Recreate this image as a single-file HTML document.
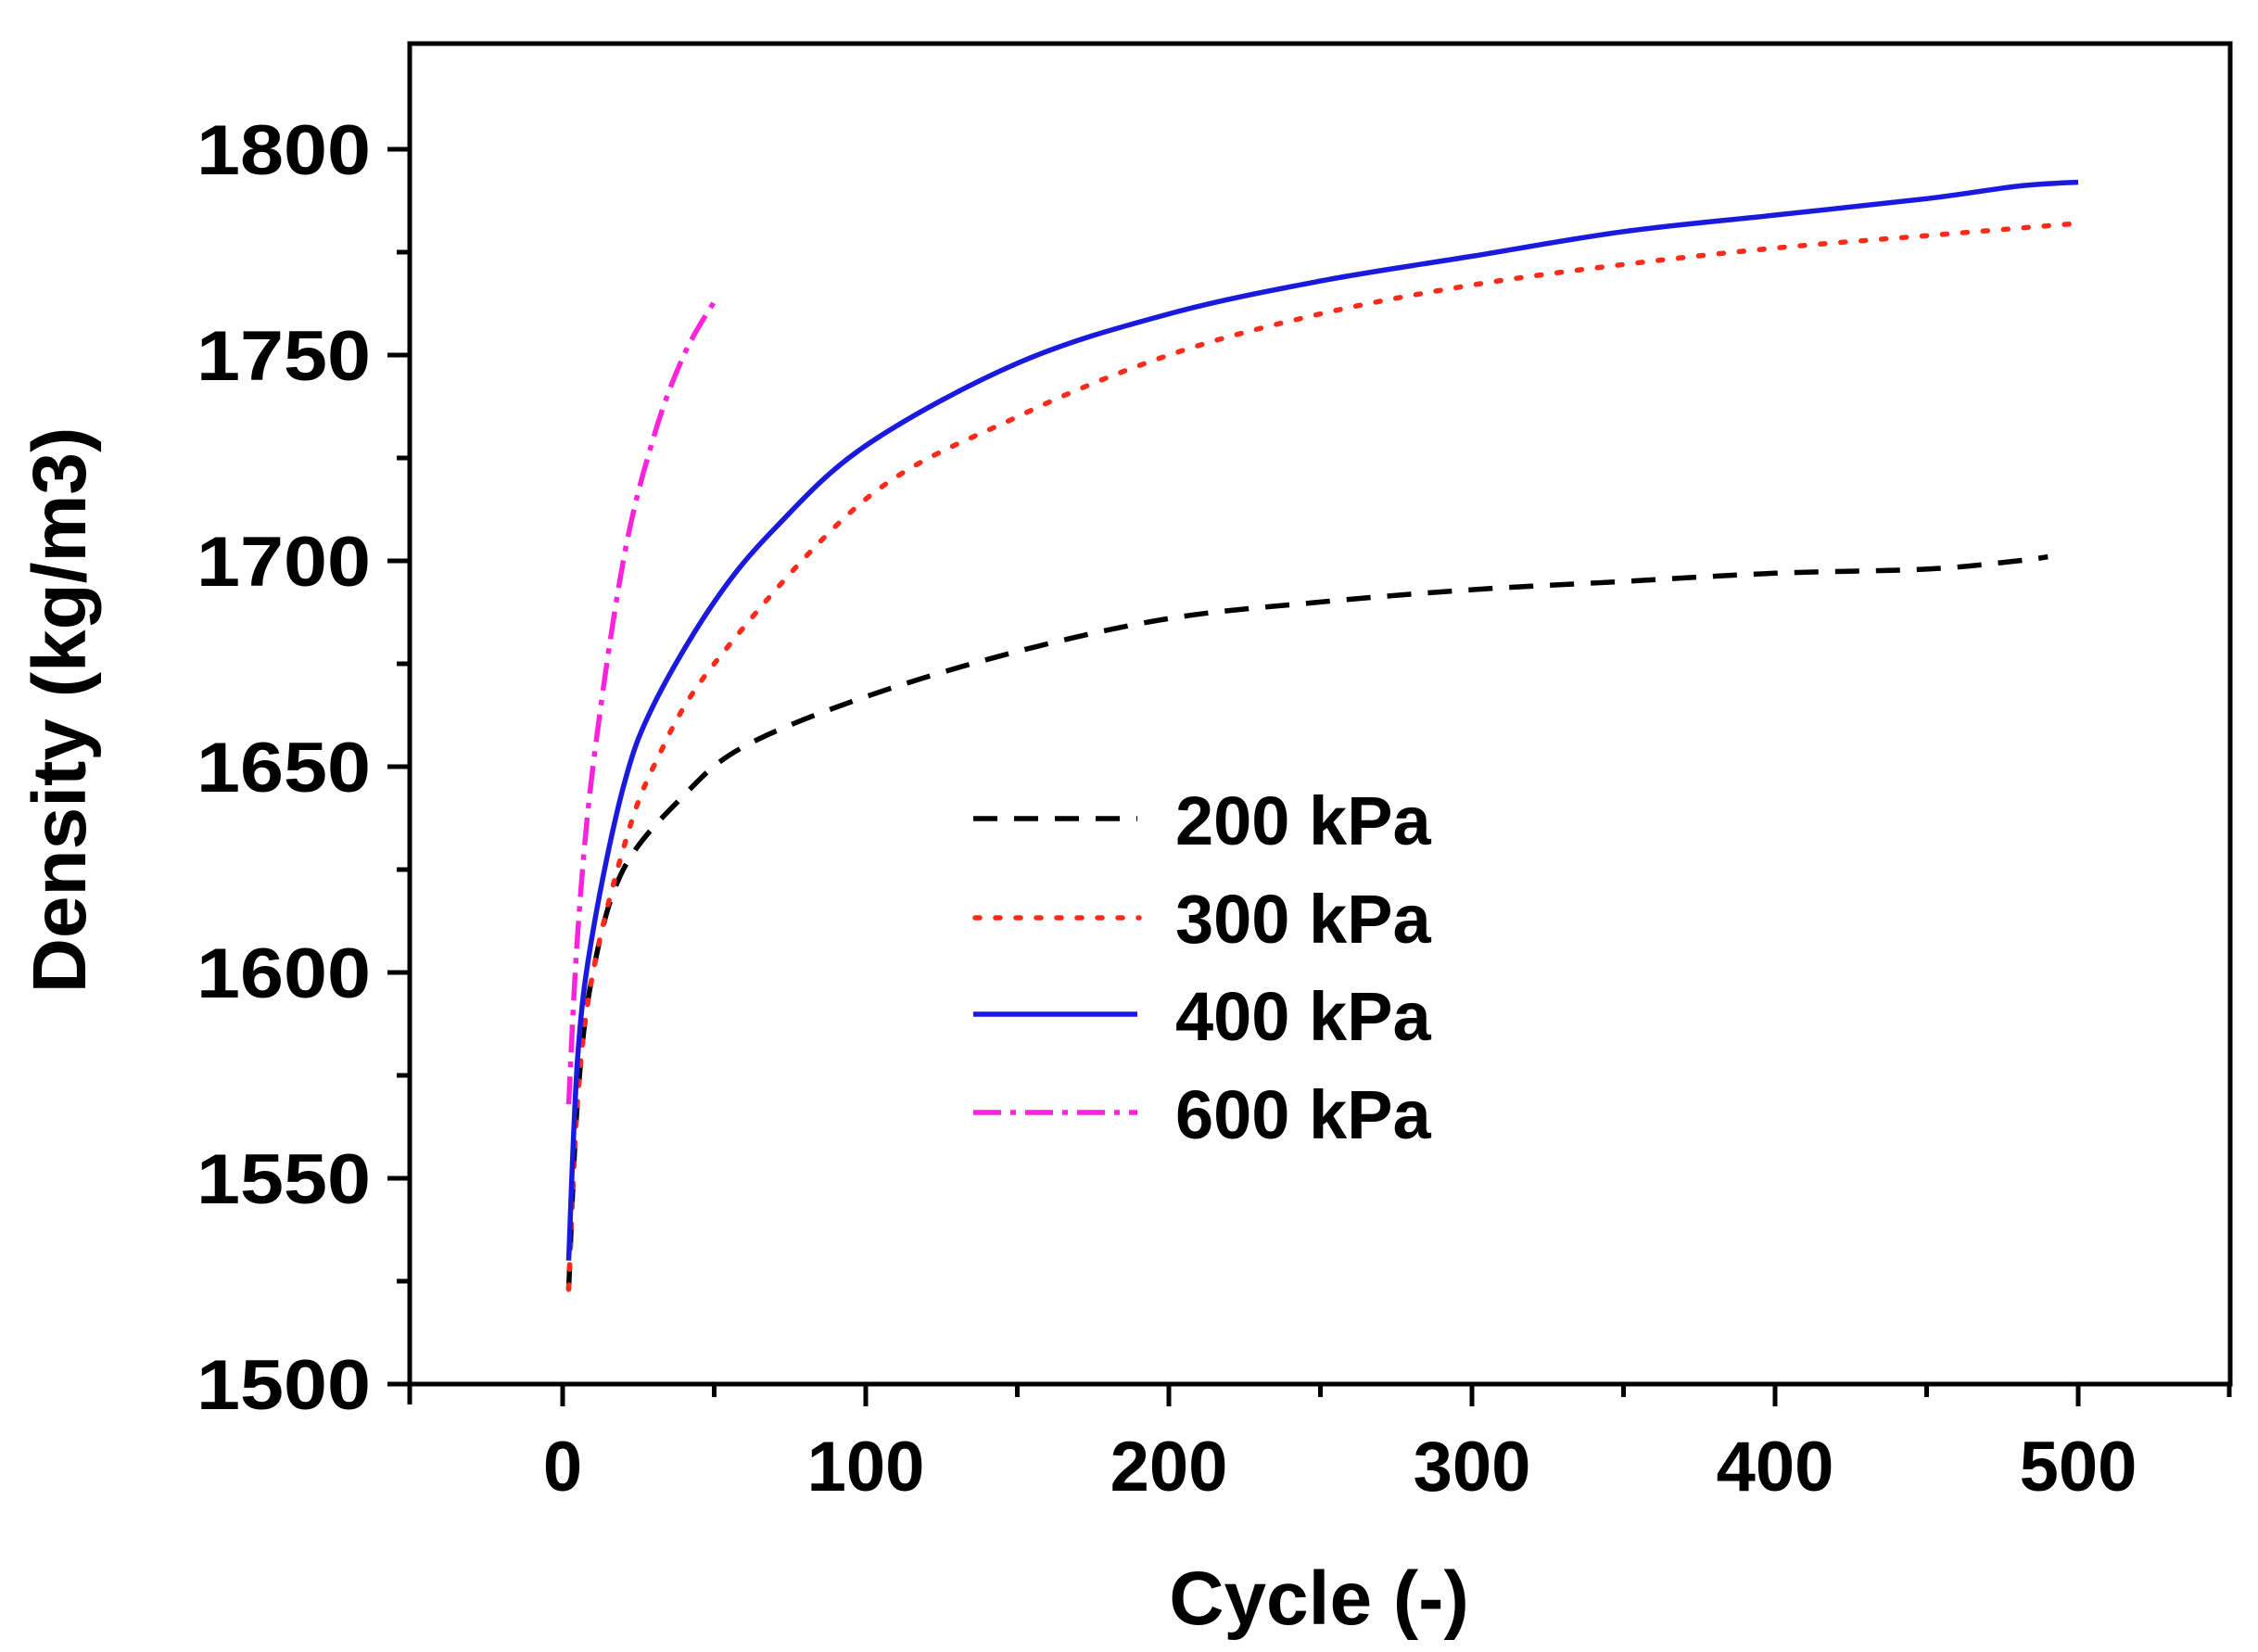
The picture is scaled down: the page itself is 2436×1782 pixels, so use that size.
<!DOCTYPE html>
<html><head><style>html,body{margin:0;padding:0;background:#fff}svg{display:block}</style></head><body>
<svg id="s" width="2436" height="1782" viewBox="0 0 2436 1782" xmlns="http://www.w3.org/2000/svg">
<g stroke="#000" stroke-width="5" fill="none">
<rect x="442" y="47" width="1964" height="1446"/>
<path d="M442 1493h-24M442 1271h-24M442 1049h-24M442 827h-24M442 605h-24M442 383h-24M442 161h-24M442 1382h-14M442 1160h-14M442 938h-14M442 716h-14M442 494h-14M442 272h-14M442 1493v22"/>
<path d="M607 1493v24M934 1493v24M1261 1493v24M1588 1493v24M1915 1493v24M2242 1493v24M770.5 1493v14M1097.5 1493v14M1424.5 1493v14M1751.5 1493v14M2078.5 1493v14M2405 1493v14"/>
</g>
<g font-family="Liberation Sans, sans-serif" font-weight="bold" font-size="76" fill="#000">
<g text-anchor="end">
<text x="400" y="1520" textLength="188" lengthAdjust="spacingAndGlyphs">1500</text><text x="400" y="1298" textLength="188" lengthAdjust="spacingAndGlyphs">1550</text><text x="400" y="1076" textLength="188" lengthAdjust="spacingAndGlyphs">1600</text><text x="400" y="854" textLength="188" lengthAdjust="spacingAndGlyphs">1650</text><text x="400" y="632" textLength="188" lengthAdjust="spacingAndGlyphs">1700</text><text x="400" y="410" textLength="188" lengthAdjust="spacingAndGlyphs">1750</text><text x="400" y="188" textLength="188" lengthAdjust="spacingAndGlyphs">1800</text>
</g>
<g text-anchor="middle">
<text x="607" y="1608">0</text><text x="934" y="1608">100</text><text x="1261" y="1608">200</text><text x="1588" y="1608">300</text><text x="1915" y="1608">400</text><text x="2242" y="1608">500</text>
<text x="1423" y="1752" font-size="82">Cycle (-)</text>
<text transform="translate(92,766) rotate(-90)" font-size="82">Density (kg/m3)</text>
</g>
<g font-size="74">
<text x="1268" y="911">200 kPa</text><text x="1268" y="1017">300 kPa</text><text x="1268" y="1122">400 kPa</text><text x="1268" y="1228">600 kPa</text>
</g>
</g>
<g fill="none" stroke-width="5.5">
<path id="p200" stroke="#000" stroke-dasharray="26,18" d="M613.5,1390.9L623.4,1182.2L639.7,1049L672.4,938L737.8,858L803.2,805L934,751.5L1097.5,702.7L1261,667.2L1424.5,649.4L1588,636.1L1751.5,627.2L1915,618.3L2078.5,613.9L2176.6,605L2209.3,600.6"/>
<path id="p300" stroke="#ff2a1a" stroke-dasharray="5,17" stroke-linecap="round" d="M613.5,1390.9L623.4,1182.2L639.7,1049L672.4,915.8L705.1,827L770.5,716L934,538.4L1097.5,449.6L1261,383L1424.5,338.6L1588,307.5L1751.5,285.3L1915,267.6L2078.5,254.2L2242,240.9"/>
<path id="p400" stroke="#1a1adf" d="M613.5,1359.8L623.4,1137.8L639.7,1004.6L672.4,849.2L705.1,760.4L770.5,649.4L835.9,570L934,480.7L1097.5,391.9L1261,338.6L1424.5,303.1L1588,276.4L1751.5,249.8L1915,232L2078.5,214.3L2176.6,200.9L2242,196.5"/>
<path id="p600" stroke="#ff22dd" stroke-dasharray="30,10,6,10" d="M613.5,1191.1L623.4,1004.6L639.7,827L672.4,605L705.1,471.8L737.8,383L770.5,325.3"/>
<path stroke="#000" stroke-dasharray="26,18" d="M1050 883h177"/>
<path stroke="#ff2a1a" stroke-dasharray="5,17" stroke-linecap="round" d="M1052 990h177"/>
<path stroke="#1a1adf" d="M1050 1094h177"/>
<path stroke="#ff22dd" stroke-dasharray="30,10,6,10" d="M1050 1200h177"/>
</g>
</svg>
<script>
['p200','p300','p400','p600'].forEach(function(id){
 var el=document.getElementById(id);
 var pts=el.getAttribute('d').replace(/^M/,'').split('L').map(function(s){return s.split(',').map(Number);});
 var d='M'+pts[0][0]+','+pts[0][1];
 for(var i=0;i<pts.length-1;i++){
  var p0=pts[i-1]||pts[i],p1=pts[i],p2=pts[i+1],p3=pts[i+2]||p2;
  var c1=[p1[0]+(p2[0]-p0[0])/6,p1[1]+(p2[1]-p0[1])/6];
  var c2=[p2[0]-(p3[0]-p1[0])/6,p2[1]-(p3[1]-p1[1])/6];
  d+='C'+c1[0].toFixed(1)+','+c1[1].toFixed(1)+' '+c2[0].toFixed(1)+','+c2[1].toFixed(1)+' '+p2[0]+','+p2[1];
 }
 el.setAttribute('d',d);
});
</script>
</body></html>
